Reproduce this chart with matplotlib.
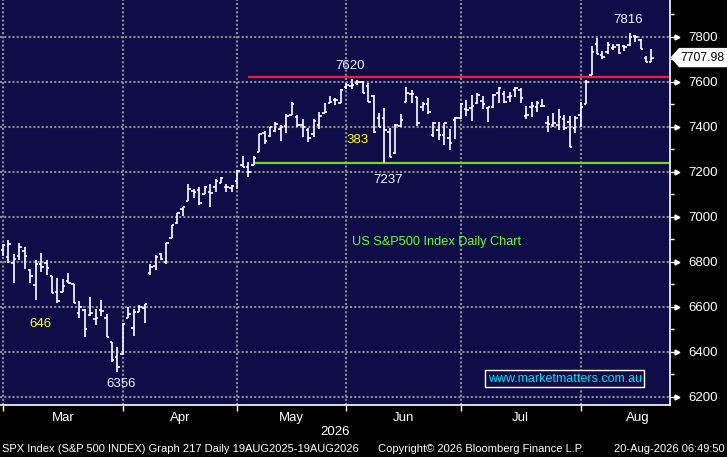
import matplotlib
matplotlib.use('Agg')
import matplotlib.pyplot as plt
import matplotlib.transforms as mtransforms
from matplotlib.patches import Polygon
import numpy as np

plt.rcParams['font.family'] = ['Liberation Sans', 'DejaVu Sans']

# daily OHLC, Mar-Aug 2026
opens = [6853, 6821, 6795, 6826, 6848, 6764, 6697, 6790, 6795, 6737, 6666, 6666, 6715, 6701, 6572, 6586, 6563, 6546, 6586, 6550, 6443, 6377,
         6390, 6550, 6506, 6577, 6595, 6750, 6781, 6835, 6799, 6906, 6973, 7035, 7071, 7115, 7119, 7102, 7111, 7133, 7151, 7133, 7128,
         7160, 7231, 7222, 7231, 7288, 7373, 7360, 7382, 7391, 7404, 7453, 7444, 7409, 7386, 7369, 7409, 7462, 7506, 7520, 7506,
         7578, 7582, 7595, 7600, 7582, 7538, 7440, 7440, 7377, 7284, 7404, 7511, 7546, 7533, 7489, 7502, 7364, 7386, 7364, 7351, 7431,
         7440, 7480, 7485, 7506, 7515, 7484, 7489, 7551, 7546, 7533, 7565, 7564, 7449, 7487, 7489, 7494, 7418, 7409, 7409, 7435, 7422, 7395,
         7453, 7502, 7631, 7769, 7720, 7733, 7751, 7764, 7760, 7764, 7804, 7787, 7707, 7689]
highs = [6879, 6897, 6835, 6884, 6866, 6768, 6808, 6839, 6808, 6737, 6728, 6724, 6750, 6701, 6626, 6590, 6644, 6590, 6630, 6568, 6443, 6421,
         6528, 6599, 6590, 6608, 6612, 6790, 6830, 6839, 6884, 6964, 7017, 7044, 7146, 7124, 7133, 7137, 7146, 7168, 7177, 7146, 7142,
         7209, 7271, 7244, 7271, 7369, 7382, 7400, 7422, 7409, 7457, 7511, 7453, 7435, 7395, 7435, 7466, 7506, 7538, 7529, 7569,
         7595, 7613, 7609, 7604, 7595, 7542, 7462, 7484, 7395, 7413, 7457, 7578, 7564, 7533, 7511, 7529, 7422, 7422, 7418, 7391, 7444,
         7506, 7520, 7542, 7551, 7538, 7489, 7546, 7578, 7560, 7555, 7578, 7573, 7494, 7511, 7515, 7524, 7449, 7462, 7480, 7453, 7449, 7449,
         7511, 7609, 7760, 7796, 7738, 7778, 7769, 7769, 7764, 7818, 7809, 7791, 7716, 7747]
lows = [6826, 6795, 6706, 6808, 6768, 6706, 6630, 6755, 6741, 6661, 6617, 6666, 6706, 6617, 6550, 6466, 6559, 6519, 6559, 6466, 6354, 6310,
        6385, 6550, 6470, 6577, 6528, 6741, 6764, 6808, 6790, 6906, 6968, 7004, 7071, 7084, 7053, 7102, 7044, 7111, 7151, 7111, 7111,
        7124, 7222, 7177, 7231, 7288, 7324, 7355, 7377, 7337, 7373, 7453, 7400, 7355, 7333, 7355, 7391, 7462, 7506, 7497, 7506,
        7569, 7569, 7587, 7551, 7511, 7373, 7400, 7237, 7266, 7280, 7400, 7511, 7506, 7404, 7471, 7457, 7355, 7342, 7320, 7297, 7346,
        7435, 7449, 7426, 7502, 7480, 7422, 7484, 7506, 7506, 7511, 7533, 7506, 7435, 7444, 7466, 7489, 7377, 7400, 7386, 7386, 7311, 7373,
        7400, 7502, 7631, 7724, 7702, 7724, 7742, 7724, 7738, 7760, 7778, 7747, 7689, 7689]
closes = [6875, 6879, 6813, 6866, 6826, 6737, 6790, 6777, 6773, 6661, 6626, 6692, 6706, 6617, 6599, 6501, 6572, 6550, 6581, 6466, 6363, 6332,
          6523, 6568, 6577, 6599, 6612, 6777, 6821, 6813, 6884, 6964, 7017, 7044, 7124, 7111, 7062, 7133, 7106, 7160, 7173, 7133, 7137,
          7204, 7222, 7200, 7262, 7369, 7337, 7400, 7413, 7400, 7449, 7502, 7409, 7400, 7351, 7426, 7449, 7466, 7511, 7520, 7564,
          7587, 7587, 7600, 7551, 7511, 7377, 7400, 7386, 7266, 7409, 7431, 7551, 7546, 7418, 7502, 7466, 7418, 7364, 7418, 7329, 7440,
          7502, 7475, 7493, 7542, 7502, 7489, 7542, 7573, 7511, 7538, 7572, 7529, 7453, 7491, 7506, 7493, 7413, 7418, 7444, 7395, 7311, 7440,
          7489, 7600, 7733, 7724, 7712, 7764, 7756, 7729, 7756, 7800, 7800, 7747, 7689, 7707.98]

months = ['Mar', 'Apr', 'May', 'Jun', 'Jul', 'Aug']
month_sessions = [22, 21, 20, 21, 22, 21]
last_price = 7707.98
resistance = 7620
support = 7237
yticks = [6200, 6400, 6600, 6800, 7000, 7200, 7400, 7600, 7800]

BG = '#0f0d48'

fig = plt.figure(figsize=(7.27, 4.57), dpi=100, facecolor='black')
ax = fig.add_axes([0, 1 - 405 / 457, 670 / 727, 405 / 457])
ax.set_facecolor(BG)

x = np.arange(len(closes))
ax.vlines(x, lows, highs, color='white', lw=1.2, zorder=3)
ax.hlines(opens, x - 0.45, x, color='white', lw=1.2, zorder=3)
ax.hlines(closes, x, x + 0.45, color='white', lw=1.2, zorder=3)

ax.set_xlim(-0.55, 122.4)
ax.set_ylim(6163, 7964)

starts = np.concatenate([[0], np.cumsum(month_sessions)[:-1]])
mids = starts + np.array(month_sessions) / 2

# grid
for s in starts:
    ax.axvline(s, color='#8c8c8c', lw=1.5, ls=(0, (1, 1)), zorder=1)
for yv in yticks:
    ax.axhline(yv, color='#8c8c8c', lw=1.5, ls=(0, (1, 1)), zorder=1)

# support / resistance
ax.hlines(resistance, 45, 122.4, color='#f0203c', lw=1.6, zorder=2)
ax.hlines(support, 46, 122.4, color='#7ed321', lw=1.6, zorder=2)

# axes styling
for side in ['left', 'top']:
    ax.spines[side].set_visible(False)
ax.spines['right'].set_color('white')
ax.spines['bottom'].set_color('white')
ax.spines['right'].set_linewidth(1.2)
ax.spines['bottom'].set_linewidth(1.2)

ax.yaxis.tick_right()
ax.set_yticks(yticks)
ax.set_yticklabels([str(v) for v in yticks])
ax.set_yticks(np.arange(6300, 8000, 200), minor=True)
ax.tick_params(axis='y', which='major', colors='white', length=5, width=1, pad=8, labelsize=9.5)
ax.tick_params(axis='y', which='minor', colors='white', length=3, width=1)

ax.set_xticks(starts)
ax.set_xticklabels([''] * len(starts))
ax.set_xticks(mids, minor=True)
ax.set_xticklabels(months, minor=True)
ax.tick_params(axis='x', which='major', colors='white', length=4, width=1)
ax.tick_params(axis='x', which='minor', colors='white', length=0, pad=5, labelsize=9.5)

# little pointers on the price ticks
blend = mtransforms.blended_transform_factory(ax.transAxes, ax.transData)
ax.plot([1.011] * len(yticks), yticks, marker='>', ms=3.5, color='white', ls='none',
        transform=blend, clip_on=False)

# last price tag
tag = Polygon([[1.002, last_price], [1.014, last_price + 40], [1.086, last_price + 40],
               [1.086, last_price - 40], [1.014, last_price - 40]],
              closed=True, facecolor='white', edgecolor='white', transform=blend, clip_on=False)
ax.add_patch(tag)
ax.text(1.082, last_price, f'{last_price:.2f}', transform=blend, color='black',
        fontsize=8.8, va='center', ha='right')

# annotations
ax.text(63.7, 7671, '7620', color='#e8f0ff', fontsize=9.5, ha='center', va='center')
ax.text(114.7, 7876, '7816', color='#e8f0ff', fontsize=9.5, ha='center', va='center')
ax.text(70.6, 7164, '7237', color='#e8f0ff', fontsize=9.5, ha='center', va='center')
ax.text(65.0, 7342, '383', color='#ffff00', fontsize=9.5, ha='center', va='center')
ax.text(6.8, 6523, '646', color='#ffff00', fontsize=9.5, ha='center', va='center')
ax.text(21.7, 6257, '6356', color='#e8f0ff', fontsize=9.5, ha='center', va='center')
ax.text(64, 6888, 'US S&P500 Index Daily Chart', color='#66ff33', fontsize=9.2, ha='left', va='center')
ax.text(103.1, 6279, 'www.marketmatters.com.au', color='#00e0f0', fontsize=9, ha='center', va='center',
        bbox=dict(boxstyle='square,pad=0.2', facecolor=BG, edgecolor='white', lw=1))

fig.text(335 / 727, 1 - 432 / 457, '2026', color='white', fontsize=9.5, ha='center', va='center')
fig.text(2 / 727, 1 - 449 / 457, 'SPX Index (S&P 500 INDEX) Graph 217 Daily 19AUG2025-19AUG2026',
         color='white', fontsize=8, ha='left', va='center')
fig.text(378 / 727, 1 - 449 / 457, 'Copyright\u00a9 2026 Bloomberg Finance L.P.',
         color='white', fontsize=8, ha='left', va='center')
fig.text(725 / 727, 1 - 449 / 457, '20-Aug-2026 06:49:50',
         color='white', fontsize=8, ha='right', va='center')

fig.savefig('out.png', dpi=100, facecolor='black')
